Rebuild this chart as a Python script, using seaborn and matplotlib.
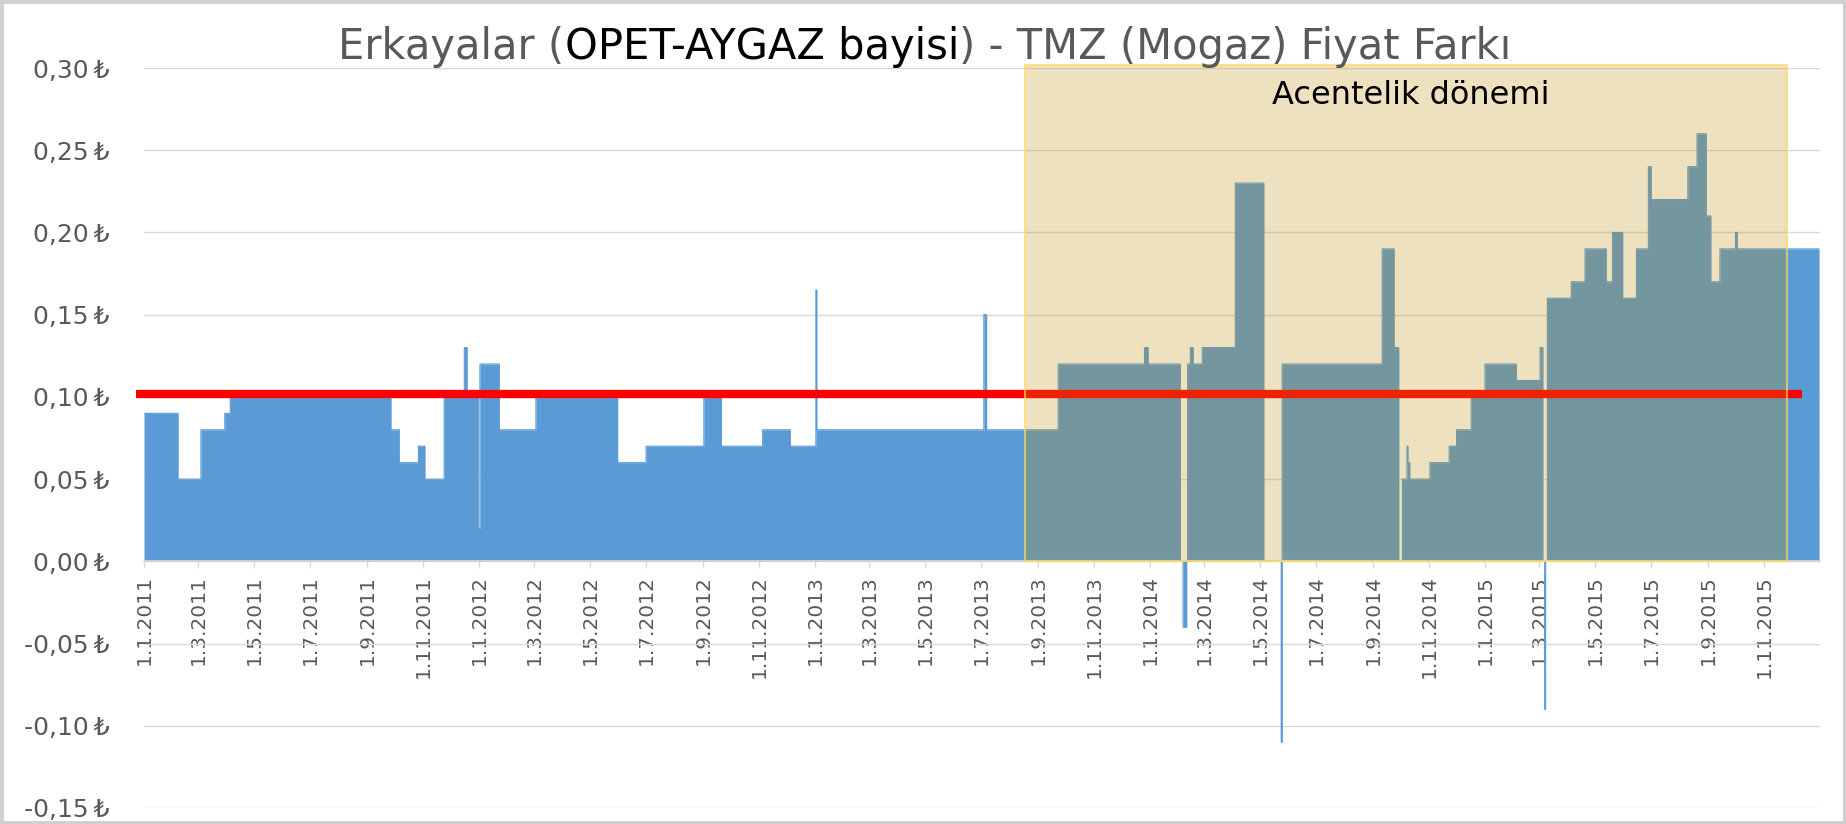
import numpy as np
import pandas as pd
import matplotlib
matplotlib.use("Agg")
import matplotlib.pyplot as plt
import matplotlib.dates as mdates
from matplotlib.patches import Rectangle
from matplotlib.ticker import FuncFormatter
import seaborn as sns

# price difference (TL), piecewise constant: value holds from each date until the next one
change_dates = [
    "2011-01-01", "2011-02-07", "2011-03-04", "2011-03-30", "2011-04-05",
    "2011-09-27", "2011-10-06", "2011-10-27", "2011-11-03", "2011-11-24",
    "2011-12-16", "2011-12-19", "2011-12-31", "2012-01-02", "2012-01-23",
    "2012-03-03", "2012-05-31", "2012-07-01", "2012-09-02", "2012-09-21",
    "2012-11-05", "2012-12-05", "2013-01-02", "2013-01-03", "2013-07-04",
    "2013-07-07", "2013-09-23", "2013-12-26", "2013-12-30", "2014-02-03",
    "2014-02-06", "2014-02-10",
    "2014-02-11", "2014-02-14", "2014-02-17", "2014-02-27", "2014-04-04",
    "2014-05-05", "2014-05-24", "2014-05-25", "2014-09-11", "2014-09-24",
    "2014-09-29", "2014-10-03", "2014-10-08", "2014-10-09", "2014-10-11",
    "2014-11-02", "2014-11-23", "2014-12-01", "2014-12-17", "2015-01-01",
    "2015-02-04", "2015-03-02", "2015-03-05", "2015-03-07", "2015-03-08",
    "2015-03-10", "2015-04-05", "2015-04-20", "2015-05-13", "2015-05-20",
    "2015-05-31", "2015-06-15", "2015-06-28", "2015-07-01", "2015-08-10",
    "2015-08-20", "2015-08-30", "2015-09-04", "2015-09-14", "2015-10-01",
    "2015-10-03",
]
change_values = [
    0.09, 0.05, 0.08, 0.09, 0.10,
    0.08, 0.06, 0.07, 0.05, 0.10,
    0.13, 0.10, 0.02, 0.12, 0.08,
    0.10, 0.06, 0.07, 0.10, 0.07,
    0.08, 0.07, 0.165, 0.08, 0.15,
    0.08, 0.12, 0.13, 0.12, 0.00,
    -0.04, 0.00,
    0.12, 0.13, 0.12, 0.13, 0.23,
    0.00, -0.11, 0.12, 0.19, 0.13,
    0.00, 0.05, 0.07, 0.06, 0.05,
    0.06, 0.07, 0.08, 0.10, 0.12,
    0.11, 0.13, 0.00, -0.09, 0.00,
    0.16, 0.17, 0.19, 0.17, 0.20,
    0.16, 0.19, 0.24, 0.22, 0.24,
    0.26, 0.21, 0.17, 0.19, 0.20,
    0.19,
]

avg_level = 0.102
avg_span = ["2010-12-23", "2015-12-12"]
agency_span = ["2013-08-18", "2015-11-26"]
agency_top = 0.302
agency_label = "Acentelik dönemi"

title_parts = ["Erkayalar (", "OPET-AYGAZ bayisi", ") - TMZ (Mogaz) Fiyat Farkı"]
title_colors = ["#595959", "#000000", "#595959"]

tick_dates = pd.date_range("2011-01-01", "2015-11-01", freq="2MS")
tick_labels = [f"{d.day}.{d.month}.{d.year}" for d in tick_dates]

blue = "#5B9BD5"

sns.set_theme(style="white")
plt.rcParams["font.family"] = ["DejaVu Sans"]

days = pd.date_range("2011-01-01", "2015-12-31", freq="D")
gap = pd.Series(change_values, index=pd.to_datetime(change_dates)).reindex(days).ffill()

W, H = 1846, 824
fig = plt.figure(figsize=(W / 100, H / 100), dpi=100)
ax = fig.add_axes([144 / W, 16 / H, 1676 / W, 740 / H])

ax.fill_between(gap.index, gap.values, 0, step="post", color=blue, lw=0, zorder=2)
sns.lineplot(x=gap.index, y=gap.values, drawstyle="steps-post", color=blue,
             lw=0.8, ax=ax, zorder=2)

ax.plot(pd.to_datetime(avg_span), [avg_level, avg_level], color="#FF0000", lw=6,
        solid_capstyle="butt", zorder=3, clip_on=False)

x0 = mdates.date2num(pd.Timestamp(agency_span[0]))
x1 = mdates.date2num(pd.Timestamp(agency_span[1]))
ax.add_patch(Rectangle((x0, 0), x1 - x0, agency_top,
                       facecolor=(191 / 255, 139 / 255, 0, 0.25),
                       edgecolor=(1.0, 0.85, 0.35, 0.7), lw=1.5,
                       zorder=4, clip_on=False))
ax.text(mdates.date2num(pd.Timestamp("2014-10-12")), 0.2835, agency_label,
        ha="center", va="center", fontsize=23, color="black", zorder=5)

# axis line sits at zero; set before tick labels since it resets the ticks
for s in ["top", "right", "left"]:
    ax.spines[s].set_visible(False)
ax.spines["bottom"].set_position(("data", 0))
ax.spines["bottom"].set_color("#D9D9D9")

ax.set_xlim(pd.Timestamp("2011-01-01"), pd.Timestamp("2016-01-01"))
ax.set_ylim(-0.15, 0.30)
ax.set_yticks(np.arange(-0.15, 0.3001, 0.05))
ax.yaxis.set_major_formatter(
    FuncFormatter(lambda v, p: f"{v:.2f}".replace(".", ",").replace("-0,00", "0,00") + "\u2009₺"))
ax.set_xticks(tick_dates)
ax.set_xticklabels(tick_labels)
ax.set_xlabel("")
ax.set_ylabel("")

ax.yaxis.grid(True, color="#D9D9D9", lw=1)
ax.xaxis.grid(False)
ax.set_axisbelow(True)
ax.tick_params(axis="x", length=5, width=1, color="#D9D9D9", labelcolor="#595959",
               labelsize=14.5, pad=5, direction="out", bottom=True, labelrotation=90)
ax.tick_params(axis="y", length=0, labelcolor="#595959", labelsize=18, pad=25)

# title with the dealer name in black
texts = [fig.text(0, (H - 59) / H, s, color=c, fontsize=30, va="baseline")
         for s, c in zip(title_parts, title_colors)]
r = fig.canvas.get_renderer()
widths = [t.get_window_extent(r).width for t in texts]
x = 0.501 * W - sum(widths) / 2
for t, w in zip(texts, widths):
    t.set_x(x / W)
    x += w

fig.add_artist(Rectangle((0, 0), 1, 1, transform=fig.transFigure, fill=False,
                         edgecolor="#D0D0D0", lw=5))

fig.savefig("out.png", dpi=100)
